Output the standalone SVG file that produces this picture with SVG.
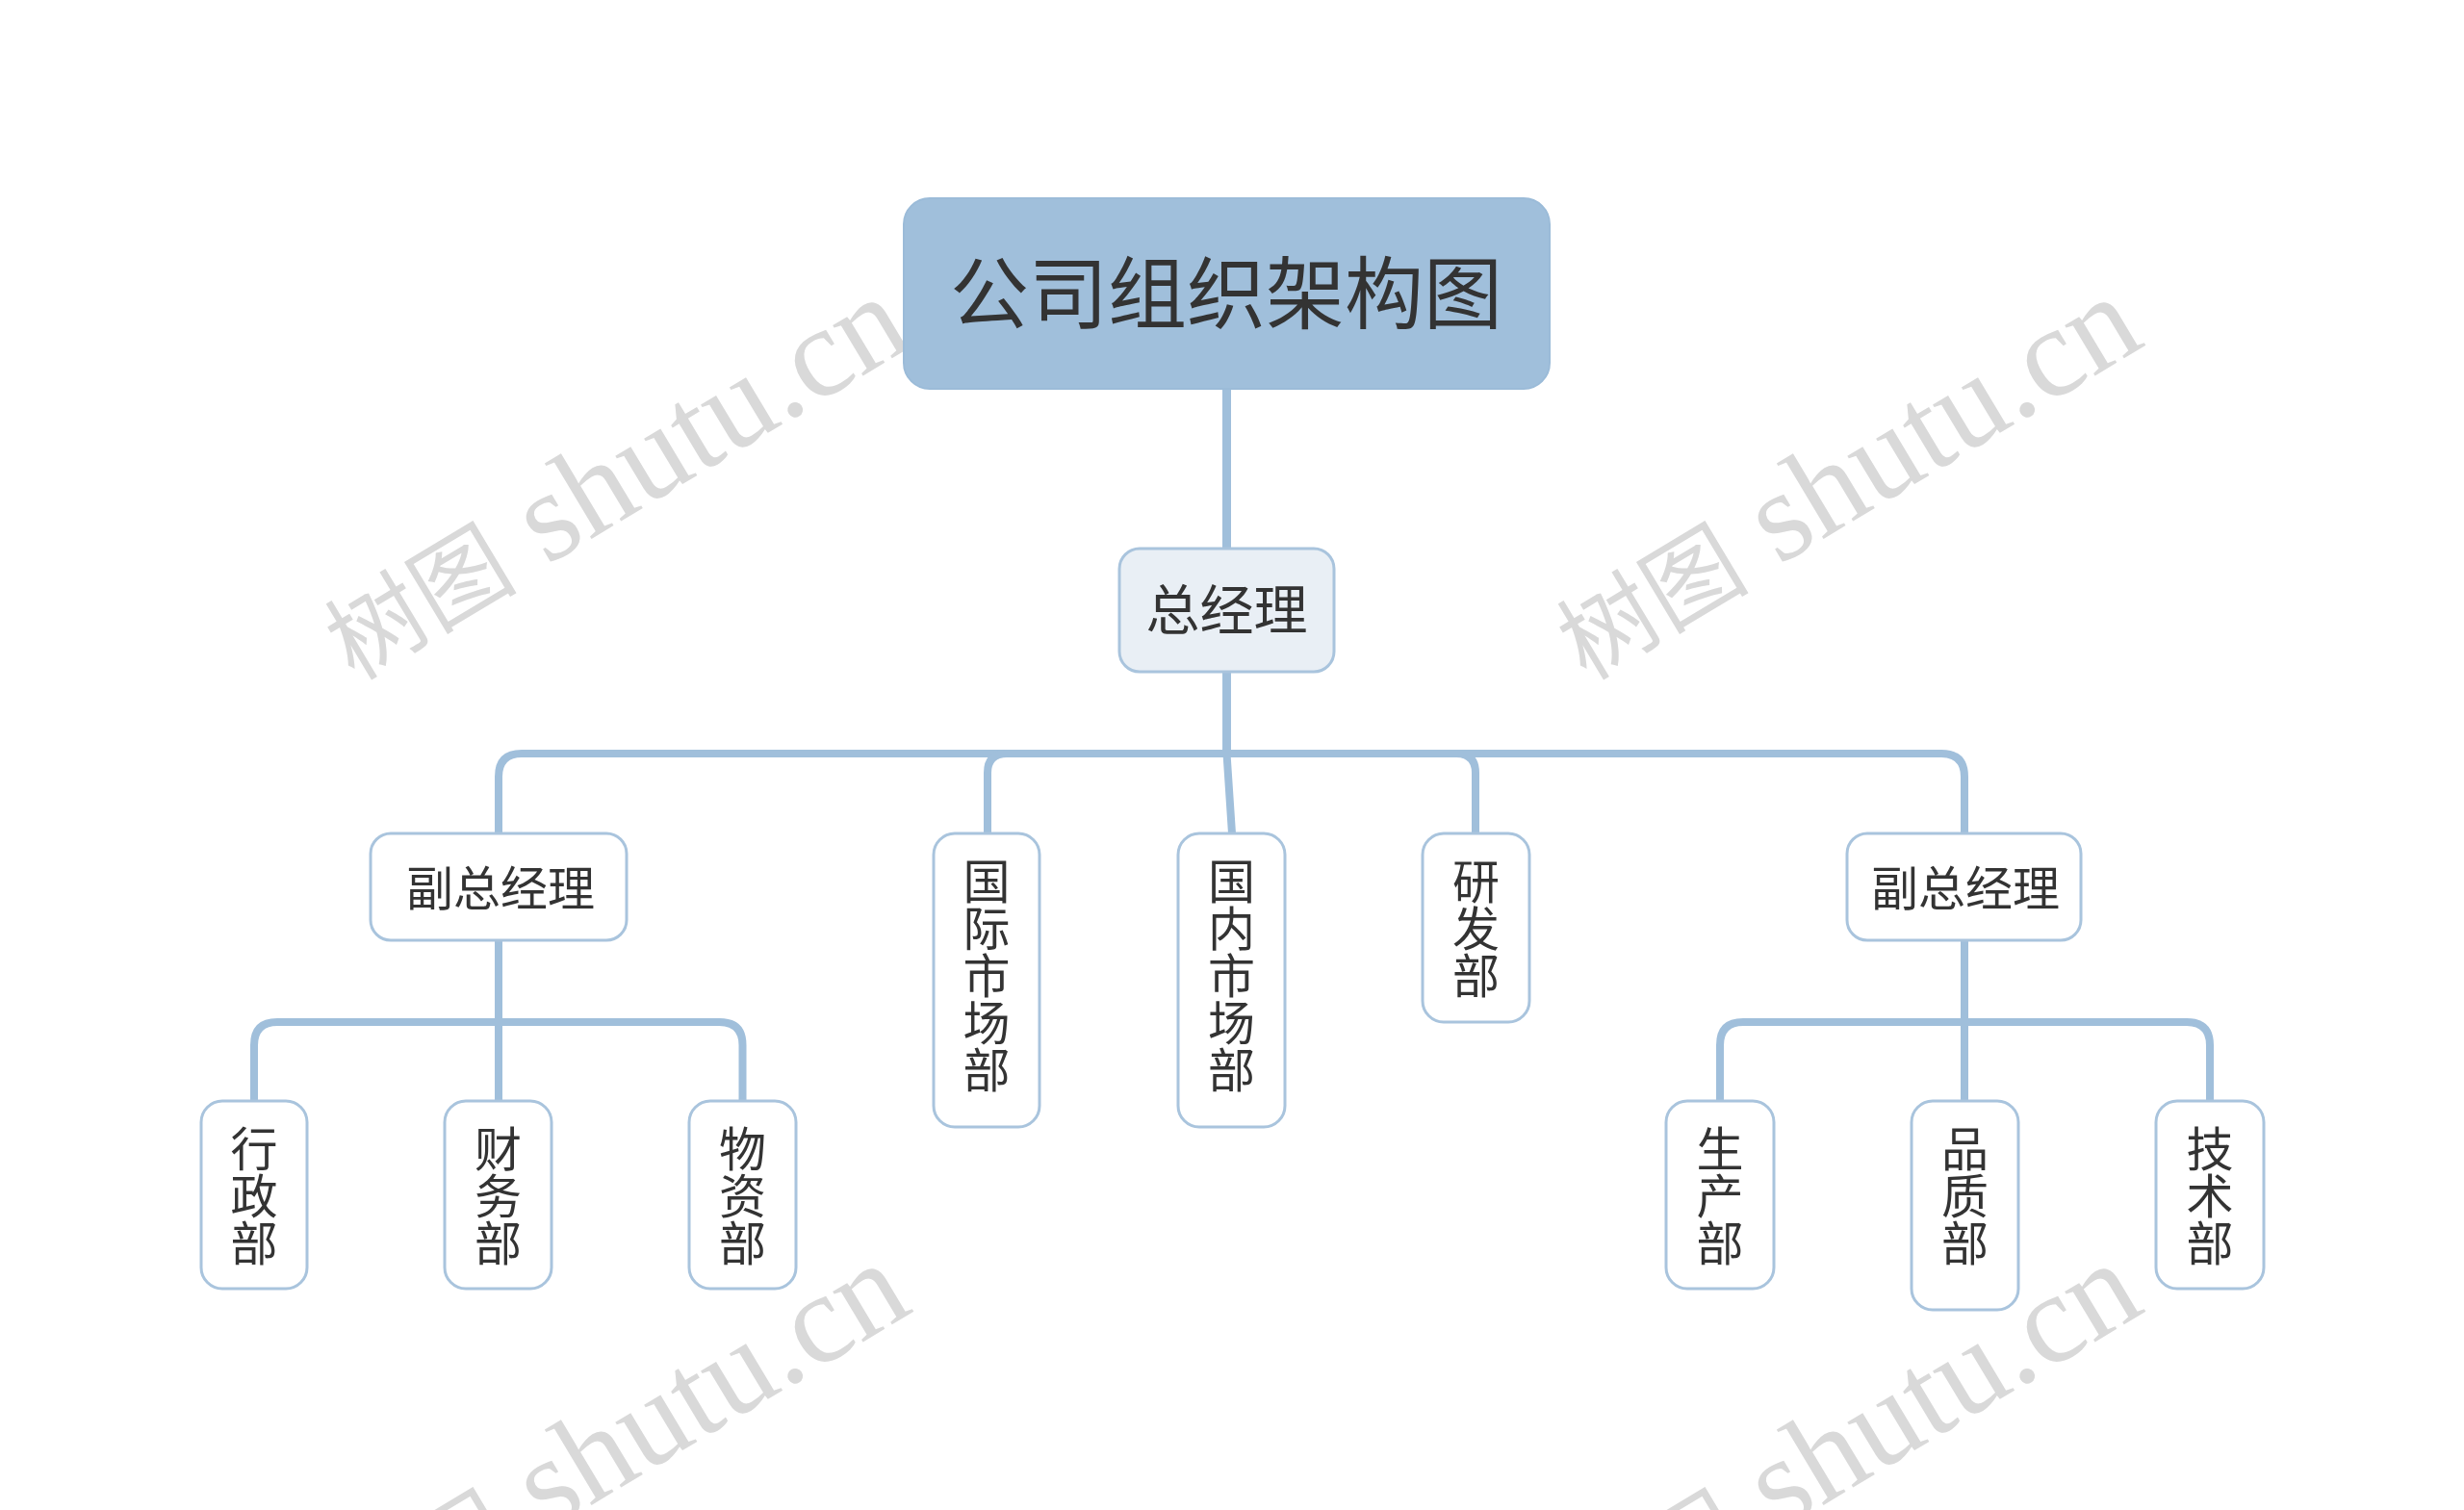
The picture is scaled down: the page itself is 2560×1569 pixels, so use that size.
<svg xmlns="http://www.w3.org/2000/svg" width="2560" height="1569" viewBox="0 0 2560 1569">
<style>
.wm{font-family:"Liberation Serif","Noto Sans CJK SC",serif;font-size:133px;fill:#d9d9d9}
.wmc{font-size:100px}
.conn{fill:none;stroke:#a0bfdb;stroke-width:8;stroke-linejoin:round}
.box{fill:#ffffff;stroke:#a9c4dd;stroke-width:3}
.t{font-family:"Noto Sans CJK SC","Noto Sans",sans-serif;fill:#333333;text-anchor:middle}
.leaf{font-size:49px}
</style>
<rect width="2560" height="1569" fill="#ffffff"/>
<g id="watermarks">
<text class="wm" transform="translate(368,708) rotate(-31)"><tspan class="wmc">树图</tspan> shutu.cn</text>
<text class="wm" transform="translate(1648,708) rotate(-31)"><tspan class="wmc">树图</tspan> shutu.cn</text>
<text class="wm" transform="translate(368,1712) rotate(-31)"><tspan class="wmc">树图</tspan> shutu.cn</text>
<text class="wm" transform="translate(1648,1712) rotate(-31)"><tspan class="wmc">树图</tspan> shutu.cn</text>
</g>
<g id="connectors">
<path class="conn" style="stroke-width:9" d="M1274.5,404 V570"/>
<path class="conn" d="M1274.5,698 V783 H542 Q518,783 518,807 V866"/>
<path class="conn" d="M1274.5,698 V783 H1046 Q1026,783 1026,803 V866"/>
<path class="conn" d="M1274.5,698 V783 L1280,866"/>
<path class="conn" d="M1274.5,698 V783 H1513 Q1533,783 1533,803 V866"/>
<path class="conn" d="M1274.5,698 V783 H2017 Q2041,783 2041,807 V866"/>
<path class="conn" d="M518,977 V1062 H288 Q264,1062 264,1086 V1144"/>
<path class="conn" d="M518,977 V1144"/>
<path class="conn" d="M518,977 V1062 H747.5 Q771.5,1062 771.5,1086 V1144"/>
<path class="conn" d="M2041,977 V1062 H1811 Q1787,1062 1787,1086 V1144"/>
<path class="conn" d="M2041,977 V1144"/>
<path class="conn" d="M2041,977 V1062 H2272 Q2296,1062 2296,1086 V1144"/>
</g>
<g id="root">
<rect x="939" y="206" width="671" height="198" rx="27" fill="#a0bfdb" stroke="#9bbbd8" stroke-width="2"/>
<text class="t" x="1274" y="335" font-size="82">公司组织架构图</text>
</g>
<g id="gm">
<rect x="1163" y="570" width="223" height="128" rx="21" fill="#e9eff5" stroke="#a9c4dd" stroke-width="3"/>
<text class="t" x="1274.5" y="654" font-size="56">总经理</text>
</g>
<g id="vp-left">
<rect class="box" x="385" y="866" width="266" height="111" rx="21"/>
<text class="t" x="520" y="940.6" font-size="49">副总经理</text>
</g>
<g id="vp-right">
<rect class="box" x="1919" y="866" width="243" height="111" rx="21"/>
<text class="t" x="2042" y="940.6" font-size="49">副总经理</text>
</g>
<g id="intl">
<rect class="box" x="970" y="866" width="110" height="305" rx="22"/>
<text class="t leaf"><tspan x="1025" y="933.6">国</tspan><tspan x="1025" y="982.6">际</tspan><tspan x="1025" y="1031.6">市</tspan><tspan x="1025" y="1080.6">场</tspan><tspan x="1025" y="1129.6">部</tspan></text>
</g>
<g id="domestic">
<rect class="box" x="1224" y="866" width="111" height="305" rx="22"/>
<text class="t leaf"><tspan x="1279.5" y="933.6">国</tspan><tspan x="1279.5" y="982.6">内</tspan><tspan x="1279.5" y="1031.6">市</tspan><tspan x="1279.5" y="1080.6">场</tspan><tspan x="1279.5" y="1129.6">部</tspan></text>
</g>
<g id="rd">
<rect class="box" x="1478" y="866" width="111" height="196" rx="22"/>
<text class="t leaf"><tspan x="1533.5" y="933.6">研</tspan><tspan x="1533.5" y="982.6">发</tspan><tspan x="1533.5" y="1031.6">部</tspan></text>
</g>
<g id="admin">
<rect class="box" x="209" y="1144" width="110" height="195" rx="22"/>
<text class="t leaf"><tspan x="264" y="1211.6">行</tspan><tspan x="264" y="1260.6">政</tspan><tspan x="264" y="1309.6">部</tspan></text>
</g>
<g id="finance">
<rect class="box" x="462" y="1144" width="111" height="195" rx="22"/>
<text class="t leaf"><tspan x="517.5" y="1211.6">财</tspan><tspan x="517.5" y="1260.6">务</tspan><tspan x="517.5" y="1309.6">部</tspan></text>
</g>
<g id="material">
<rect class="box" x="716" y="1144" width="111" height="195" rx="22"/>
<text class="t leaf"><tspan x="771.5" y="1211.6">物</tspan><tspan x="771.5" y="1260.6">资</tspan><tspan x="771.5" y="1309.6">部</tspan></text>
</g>
<g id="production">
<rect class="box" x="1731" y="1144" width="112" height="195" rx="22"/>
<text class="t leaf"><tspan x="1787" y="1211.6">生</tspan><tspan x="1787" y="1260.6">产</tspan><tspan x="1787" y="1309.6">部</tspan></text>
</g>
<g id="quality">
<rect class="box" x="1986" y="1144" width="111" height="217" rx="22"/>
<text class="t leaf"><tspan x="2041.5" y="1211.6">品</tspan><tspan x="2041.5" y="1260.6">质</tspan><tspan x="2041.5" y="1309.6">部</tspan></text>
</g>
<g id="tech">
<rect class="box" x="2240" y="1144" width="112" height="195" rx="22"/>
<text class="t leaf"><tspan x="2296" y="1211.6">技</tspan><tspan x="2296" y="1260.6">术</tspan><tspan x="2296" y="1309.6">部</tspan></text>
</g>
</svg>
